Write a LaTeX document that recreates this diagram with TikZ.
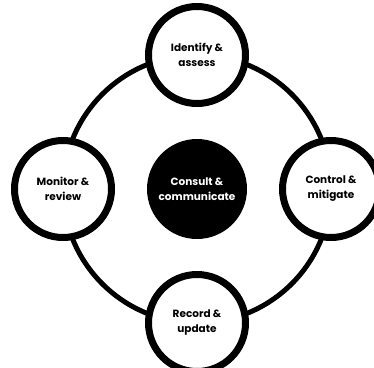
\documentclass[tikz,border=0pt]{standalone}
\usepackage{fontspec}
\setmainfont{Poppins}
\begin{document}
\begin{tikzpicture}[x=1pt,y=-1pt,
  stage/.style={circle,draw=black,line width=7pt,fill=white,minimum size=97pt,inner sep=0pt,align=center,font=\fontsize{10.5}{15}\selectfont\bfseries},
  hub/.style={circle,fill=black,minimum size=100pt,inner sep=0pt,align=center,text=white,font=\fontsize{10.5}{15}\selectfont\bfseries},
  ring/.style={line width=5pt,draw=black}]
\useasboundingbox (0,0) rectangle (374,367);
\node[hub] (hub) at (197,189) {Consult \&\\communicate};
\draw[ring] (hub.center) circle[radius=134];
\node[stage] (top) at (197,55) {Identify \&\\assess};
\node[stage] (right) at (331,189) {Control \&\\mitigate};
\node[stage] (bottom) at (197,323) {Record \&\\update};
\node[stage] (left) at (63,189) {Monitor \&\\review};
\end{tikzpicture}
\end{document}
